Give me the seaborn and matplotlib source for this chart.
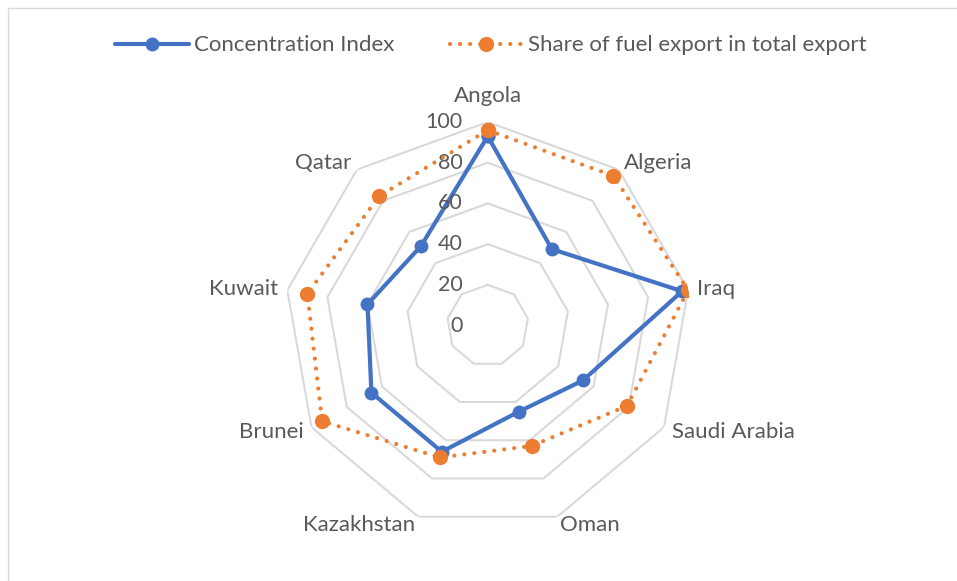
import numpy as np
import pandas as pd
import seaborn as sns
import matplotlib.pyplot as plt
from matplotlib.lines import Line2D

countries = ["Angola", "Algeria", "Iraq", "Saudi Arabia", "Oman",
             "Kazakhstan", "Brunei", "Kuwait", "Qatar"]
concentration_index = [93, 49, 97, 54, 45, 66, 66, 60, 51]
fuel_share = [96, 96, 100, 79, 63, 69, 94, 90, 83]
radial_ticks = [0, 20, 40, 60, 80, 100]

BLUE = "#4472C4"
ORANGE = "#ED7D31"
GRID = "#D9D9D9"
TEXT = "#595959"

sns.set_theme(style="white")
plt.rcParams["font.family"] = ["Lato", "DejaVu Sans"]

n = len(countries)
theta = np.arange(n) * 2 * np.pi / n
theta_closed = np.append(theta, 2 * np.pi)

df = pd.DataFrame({
    "theta": np.concatenate([theta_closed, theta_closed]),
    "value": concentration_index + concentration_index[:1] + fuel_share + fuel_share[:1],
    "series": ["Concentration Index"] * (n + 1)
    + ["Share of fuel export in total export"] * (n + 1),
})

fig = plt.figure(figsize=(9.57, 5.81), dpi=100)
ax = fig.add_axes([0.297, 0.0895, 0.4253, 0.7005], projection="polar")
ax.set_theta_zero_location("N")
ax.set_theta_direction(-1)
ax.set_ylim(0, 100)
ax.grid(False)
ax.spines["polar"].set_visible(False)
ax.set_xticks([])
ax.set_yticks([])
ax.set_facecolor("none")

# polygon grid rings
for r in radial_ticks[1:]:
    ax.plot(theta_closed, [r] * (n + 1), color=GRID, lw=1.5, zorder=1)

# series
ci = df[df["series"] == "Concentration Index"]
sns.lineplot(data=ci, x="theta", y="value", ax=ax, sort=False, estimator=None,
             color=BLUE, lw=3, marker="o", markersize=10,
             markeredgecolor=BLUE, markeredgewidth=0, zorder=3)
fs = df[df["series"] == "Share of fuel export in total export"]
sns.lineplot(data=fs, x="theta", y="value", ax=ax, sort=False, estimator=None,
             color=ORANGE, lw=3, linestyle=(0, (0.01, 2.4)), dash_capstyle="round",
             marker="o", markersize=11, markeredgecolor=ORANGE,
             markeredgewidth=0, zorder=4)
ax.set_xlabel("")
ax.set_ylabel("")
ax.set_ylim(0, 100)

# radial tick labels
for r in radial_ticks:
    ax.annotate(str(r), xy=(0, r), xytext=(-18, 0), textcoords="offset points",
                ha="right", va="center", fontsize=15.5, color=TEXT)

# category labels
for t, name in zip(theta, countries):
    s, c = np.sin(t), np.cos(t)
    ha = "center" if abs(s) < 0.2 else ("left" if s > 0 else "right")
    r = 113 if (abs(s) < 0.2 and c > 0) else 104.5
    ax.text(t, r, name, ha=ha, va="center", fontsize=16, color=TEXT)

handles = [
    Line2D([], [], color=BLUE, lw=3, marker="o", markersize=10, markeredgewidth=0),
    Line2D([], [], color=ORANGE, lw=3, linestyle=(0, (0.01, 2.4)),
           dash_capstyle="round", marker="o", markersize=11, markeredgewidth=0),
]
fig.legend(handles, ["Concentration Index", "Share of fuel export in total export"],
           loc="center", bbox_to_anchor=(0.513, 0.922), ncol=2, frameon=False,
           fontsize=16, handlelength=3.3, columnspacing=2.5, labelcolor=TEXT,
           handletextpad=0.22)

# chart border
fig.add_artist(Line2D([8 / 957, 8 / 957], [0, 1 - 8 / 581], color=GRID, lw=1))
fig.add_artist(Line2D([8 / 957, 1], [1 - 8 / 581, 1 - 8 / 581], color=GRID, lw=1))

fig.savefig("out.png", dpi=100)
